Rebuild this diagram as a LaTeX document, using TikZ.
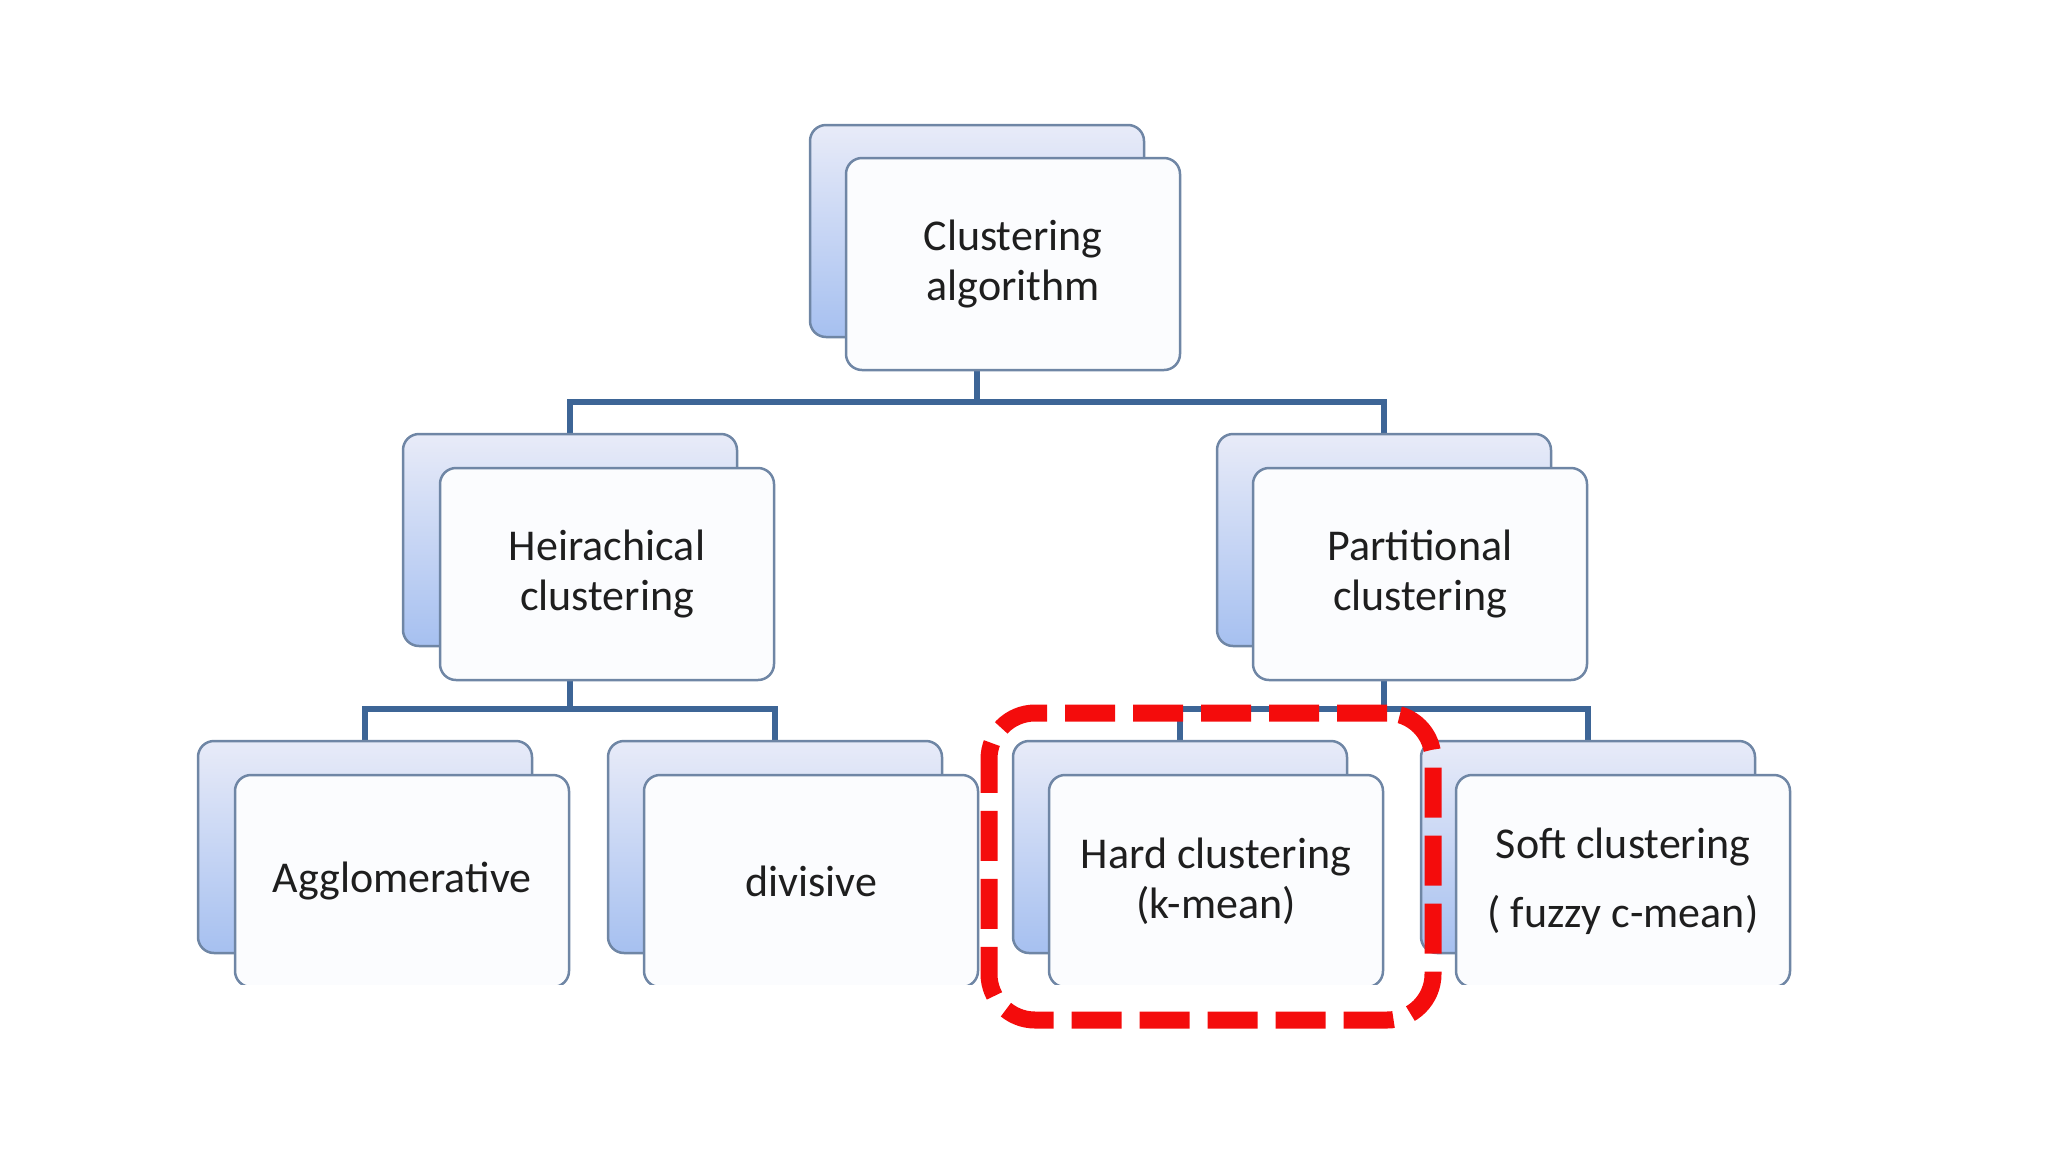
\documentclass[tikz,border=0pt]{standalone}
\usepackage{fontspec}
\setmainfont{Carlito}
\usetikzlibrary{backgrounds}
\definecolor{boxline}{HTML}{6F86A5}
\definecolor{conncol}{HTML}{3D6596}
\definecolor{backtop}{HTML}{E8EBF8}
\definecolor{backbot}{HTML}{A6C0F0}
\definecolor{frontfill}{HTML}{FBFCFE}
\definecolor{hlred}{HTML}{F40C0C}
\definecolor{txt}{HTML}{1E1E1E}
\tikzset{
  backbox/.style={draw=boxline, line width=2.5pt, rounded corners=16pt,
    minimum width=334pt, minimum height=212pt, inner sep=0pt,
    top color=backtop, bottom color=backbot},
  frontbox/.style={draw=boxline, line width=2.5pt, rounded corners=16pt,
    minimum width=334pt, minimum height=212pt, inner sep=0pt,
    fill=frontfill, text=txt, align=center,
    font=\fontsize{44}{50}\selectfont},
  conn/.style={draw=conncol, line width=6.5pt, line join=miter},
  hlbox/.style={draw=hlred, line width=17pt, rounded corners=46pt,
    dash pattern=on 50pt off 18pt, minimum width=444pt, minimum height=307pt}
}
\begin{document}
\begin{tikzpicture}[x=1pt,y=-1pt]
\useasboundingbox (0,0) rectangle (2048,1152);
% top and middle rows
\node[backbox] (b0) at (977,231) {};
\node[frontbox] (f0) at (1013,264) {Clustering\\algorithm};
\node[backbox] (b1) at (570,540) {};
\node[frontbox] (f1) at (607,574) {Heirachical\\clustering};
\node[backbox] (b2) at (1384,540) {};
\node[frontbox] (f2) at (1420,574) {Partitional\\clustering};
% bottom row, cut at the lower edge
\begin{scope}
\clip (0,0) rectangle (2048,984);
\node[backbox] (b3) at (365,847) {};
\node[frontbox] (f3) at (402,881) {Agglomerative};
\node[backbox] (b4) at (775,847) {};
\node[frontbox] (f4) at (811,881) {divisive};
\node[backbox] (b5) at (1180,847) {};
\node[frontbox] (f5) at (1216,881) {Hard clustering\\(k-mean)};
\node[backbox] (b6) at (1588,847) {};
\node[frontbox] (f6) at (1623,881) {Soft clustering\\[19pt]( fuzzy c-mean)};
\end{scope}
% connectors behind the boxes
\coordinate (j0) at (977,402);
\coordinate (j1) at (570,709);
\coordinate (j2) at (1384,709);
\begin{scope}[on background layer]
\draw[conn] (b0 |- f0.south) -- (j0);
\draw[conn] (b1.north) -- (b1 |- j0) -- (b2 |- j0) -- (b2.north);
\draw[conn] (b1 |- f1.south) -- (j1);
\draw[conn] (b3.north) -- (b3 |- j1) -- (b4 |- j1) -- (b4.north);
\draw[conn] (b2 |- f2.south) -- (j2);
\draw[conn] (b5.north) -- (b5 |- j2) -- (b6 |- j2) -- (b6.north);
\end{scope}
% red highlight
\node[hlbox] (hl) at (1211,866.5) {};
\end{tikzpicture}
\end{document}
